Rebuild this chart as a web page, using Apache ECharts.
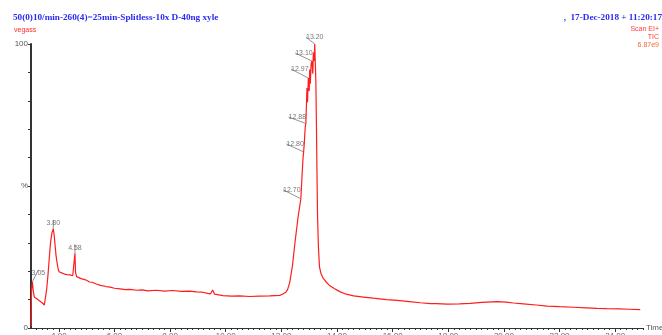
<!DOCTYPE html>
<html>
<head>
<meta charset="utf-8">
<script src="https://cdn.jsdelivr.net/npm/echarts@6/dist/echarts.min.js"></script>
<style>
html,body{margin:0;padding:0;background:#fff;}
#chart{width:662px;height:335px;}
</style>
</head>
<body>
<div id="chart"></div>
<script>
// ---- data (retention time in min, relative intensity %) ----
var tic = [
  [3.00,0.5],[3.02,13.5],[3.05,16.3],[3.08,13.2],[3.12,10.8],[3.20,10.4],[3.30,9.6],[3.40,8.9],[3.48,8.1],[3.52,8.6],
  [3.56,13.4],[3.60,17.5],[3.62,19.8],[3.66,25.0],[3.70,29.9],[3.75,33.4],[3.80,34.9],[3.83,33.0],[3.86,29.8],[3.90,25.5],
  [3.94,22.8],[3.98,20.6],[4.01,19.8],[4.05,20.3],[4.10,19.4],[4.15,19.7],[4.20,19.0],[4.25,19.4],[4.30,18.8],[4.35,19.2],
  [4.40,18.7],[4.45,18.9],[4.50,18.4],[4.54,18.6],[4.56,19.0],[4.58,26.3],[4.60,19.6],[4.64,18.1],[4.70,17.9],[4.80,17.4],
  [4.90,17.1],[5.00,16.8],[5.10,16.2],[5.20,16.1],[5.35,15.5],[5.50,15.0],[5.70,14.6],[5.85,14.4],[6.00,14.0],[6.20,13.8],
  [6.40,13.5],[6.55,13.6],[6.80,13.3],[7.00,13.4],[7.20,13.1],[7.50,13.3],[7.80,13.0],[8.10,13.2],[8.40,12.9],[8.70,13.0],
  [8.95,12.7],[9.17,12.6],[9.35,12.2],[9.45,12.0],[9.53,13.4],[9.60,11.9],[9.67,11.5],[9.90,11.4],[10.20,11.2],[10.50,11.3],
  [10.86,11.1],[11.20,11.2],[11.58,11.3],[11.94,11.5],[12.04,11.9],[12.16,12.6],[12.22,13.4],[12.30,16.0],[12.40,22.0],[12.50,31.0],
  [12.60,39.0],[12.70,45.5],[12.74,53.0],[12.78,60.0],[12.80,62.0],[12.82,64.5],[12.86,71.0],[12.88,72.0],[12.90,78.0],[12.92,84.5],
  [12.94,79.5],[12.97,88.0],[13.00,83.5],[13.02,91.0],[13.04,86.0],[13.07,93.0],[13.10,94.0],[13.13,89.5],[13.15,97.0],[13.18,94.0],
  [13.20,100],[13.22,93.0],[13.24,87.0],[13.26,72.0],[13.28,55.0],[13.30,40.0],[13.33,29.0],[13.37,21.5],[13.42,19.3],[13.50,17.6],
  [13.60,16.3],[13.73,15.0],[13.90,13.9],[14.10,12.8],[14.33,11.9],[14.60,11.3],[14.95,10.9],[15.30,10.5],[15.78,10.0],[16.17,9.7],
  [16.60,9.3],[17.00,8.9],[17.36,8.6],[17.57,8.6],[17.97,8.4],[18.40,8.5],[18.79,8.7],[19.20,9.0],[19.58,9.2],[19.76,9.3],
  [20.09,9.1],[20.34,8.8],[20.70,8.5],[21.16,8.1],[21.56,7.7],[22.00,7.5],[22.50,7.3],[22.96,7.1],[23.35,6.9],[23.70,6.8],
  [24.14,6.7],[24.50,6.6],[24.90,6.5]
];
var peakLabels = ['3.05','3.80','4.58','12.70','12.80','12.88','12.97','13.10','13.20'];
var peakTimes  = [3.05, 3.80, 4.58, 12.70, 12.80, 12.88, 12.97, 13.10, 13.20];
var peakValues = [16.3, 34.9, 26.3, 45.5, 62.0, 72.0, 88.0, 94.0, 100];
var xTickValues = [4, 6, 8, 10, 12, 14, 16, 18, 20, 22, 24];
var xTickLabels = ['4.00','6.00','8.00','10.00','12.00','14.00','16.00','18.00','20.00','22.00','24.00'];
var yTickLabels = {0: '0', 50: '%', 100: '100'};

// label offsets (style only)
var labelShift = [[6,-3],[0,0],[0,0],[-9,-3.5],[-8.5,-2.5],[-8.5,-1],[-8.5,-3.5],[-8,-2.5],[0,-1.5]];

var minorTicks = [];
for (var k = 16; k <= 125; k++) { if (k % 10 !== 0) minorTicks.push(k / 5); }

var peakData = peakTimes.map(function (t, i) { return [t, peakValues[i]]; });

var chart = echarts.init(document.getElementById('chart'), null, {renderer: 'canvas'});
var blue = '#2a2af2';
chart.setOption({
  animation: false,
  backgroundColor: '#ffffff',
  title: [
    {text: '50(0)10/min-260(4)=25min-Splitless-10x D-40ng xyle', left: 13, top: 13, padding: 0,
     textStyle: {fontFamily: 'Liberation Serif', fontWeight: 'bold', fontSize: 9.2, color: blue}},
    {text: 'vegass', left: 14, top: 27, padding: 0,
     textStyle: {fontFamily: 'Liberation Sans', fontWeight: 'normal', fontSize: 7, color: '#ff2a2a'}},
    {text: ',  17-Dec-2018 + 11:20:17', right: 0, top: 13, padding: 0,
     textStyle: {fontFamily: 'Liberation Serif', fontWeight: 'bold', fontSize: 9.2, color: blue}},
    {text: 'Scan EI+', right: 3, top: 26, padding: 0,
     textStyle: {fontFamily: 'Liberation Sans', fontWeight: 'normal', fontSize: 7, color: '#ff3a3a'}},
    {text: 'TIC', right: 3, top: 34, padding: 0,
     textStyle: {fontFamily: 'Liberation Sans', fontWeight: 'normal', fontSize: 7, color: '#ff3a3a'}},
    {text: '6.87e9', right: 3, top: 42, padding: 0,
     textStyle: {fontFamily: 'Liberation Sans', fontWeight: 'normal', fontSize: 7, color: '#ee6a3a'}}
  ],
  grid: {left: 31, right: 19, top: 44, bottom: 7, containLabel: false, outerBoundsMode: 'none'},
  xAxis: [
    {type: 'value', min: 3, max: 25, position: 'bottom',
     axisLine: {show: true, onZero: false, lineStyle: {color: '#333', width: 1}},
     axisTick: {show: true, customValues: xTickValues, length: 4, lineStyle: {color: '#333'}},
     axisLabel: {show: true, customValues: xTickValues, margin: 4, fontSize: 8, color: '#666',
       fontFamily: 'Liberation Sans',
       formatter: function (v) { var i = xTickValues.indexOf(v); return i >= 0 ? xTickLabels[i] : ''; }},
     splitLine: {show: false},
     name: 'Time', nameLocation: 'end', nameGap: 3,
     nameTextStyle: {fontSize: 8, color: '#555', fontFamily: 'Liberation Sans'}},
    {type: 'value', min: 3, max: 25, position: 'bottom',
     axisLine: {show: false, onZero: false},
     axisTick: {show: true, customValues: minorTicks, length: 2, lineStyle: {color: '#333'}},
     axisLabel: {show: false},
     splitLine: {show: false}}
  ],
  yAxis: {type: 'value', min: 0, max: 100, interval: 10,
    axisLine: {show: true, lineStyle: {color: '#333', width: 2}},
    axisTick: {show: true, length: 3, lineStyle: {color: '#333'}},
    axisLabel: {show: true, margin: 3, fontSize: 8, color: '#555', fontFamily: 'Liberation Sans',
      formatter: function (v) { return yTickLabels[v] !== undefined ? yTickLabels[v] : ''; }},
    splitLine: {show: false}},
  series: [
    {type: 'line', xAxisIndex: 0, data: tic, showSymbol: false, symbol: 'none',
     lineStyle: {color: '#ff1c1c', width: 1.2}, z: 3},
    {type: 'scatter', xAxisIndex: 0, data: peakData, symbolSize: 0, z: 4,
     label: {show: true, position: 'top', distance: 2, fontSize: 7, color: '#555',
       fontFamily: 'Liberation Sans',
       formatter: function (p) { return peakLabels[p.dataIndex]; }},
     labelLine: {show: true, lineStyle: {color: '#777', width: 0.8}},
     labelLayout: function (p) {
       var s = labelShift[p.dataIndex];
       return {dx: s[0], dy: s[1]};
     }}
  ]
});
</script>
</body>
</html>
